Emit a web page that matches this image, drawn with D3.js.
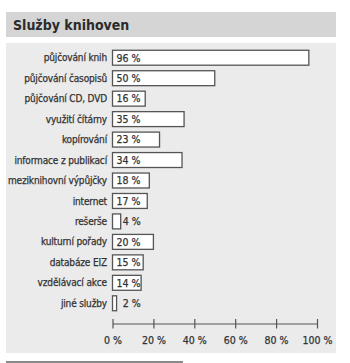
<!DOCTYPE html>
<html lang="cs">
<head>
<meta charset="utf-8">
<script src="https://cdn.jsdelivr.net/npm/d3@7"></script>
<style>
  html, body { margin: 0; padding: 0; background: #ffffff; }
  svg { display: block; }
</style>
</head>
<body>
<svg id="chart" width="350" height="363"></svg>
<script>
// Library services – share of libraries offering each service (%)
const categories = [
  "půjčování knih",
  "půjčování časopisů",
  "půjčování CD, DVD",
  "využití čítárny",
  "kopírování",
  "informace z publikací",
  "meziknihovní výpůjčky",
  "internet",
  "rešerše",
  "kulturní pořady",
  "databáze EIZ",
  "vzdělávací akce",
  "jiné služby"
];
const values = [96, 50, 16, 35, 23, 34, 18, 17, 4, 20, 15, 14, 2];
const tickValues = [0, 20, 40, 60, 80, 100];
const title = "Služby knihoven";

const font = "'DejaVu Sans Condensed', 'DejaVu Sans', sans-serif";
const ink = "#333";
const svg = d3.select("#chart");

// Medium-weight text: regular glyphs with a hairline outline
function medium(sel) {
  return sel.attr("font-family", font).attr("fill", ink)
    .attr("stroke", ink).attr("stroke-width", 0.25);
}

// Title band
svg.append("rect").attr("x", 6).attr("y", 12).attr("width", 330).attr("height", 25)
  .attr("fill", "#d5d5d5");
svg.append("text").attr("x", 13).attr("y", 29.5)
  .attr("font-family", font).attr("font-weight", "bold").attr("font-size", 14)
  .attr("fill", "#2b2b2b").text(title);

// Plot panel
svg.append("rect").attr("x", 6).attr("y", 43).attr("width", 330).attr("height", 310)
  .attr("fill", "#ebebeb");

// Underline below the panel
svg.append("rect").attr("x", 6).attr("y", 361).attr("width", 177).attr("height", 2)
  .attr("fill", "#8a8a8a");

const x = d3.scaleLinear().domain([0, 100]).range([112.5, 317]);
const y = d3.scaleBand().domain(categories).range([47.5, 313.5]).paddingInner(0.27).paddingOuter(0.135);

const rows = svg.append("g").selectAll("g").data(categories).join("g");

// Category labels
rows.append("text")
  .attr("x", 107)
  .attr("y", d => y(d) + y.bandwidth() / 2)
  .attr("dy", "0.36em")
  .attr("text-anchor", "end")
  .attr("font-size", 10).attr("letter-spacing", -0.15)
  .call(medium).text(d => d);

// Bars
rows.append("rect")
  .attr("x", x(0))
  .attr("y", d => y(d))
  .attr("width", (d, i) => x(values[i]) - x(0))
  .attr("height", y.bandwidth())
  .attr("fill", "#ffffff")
  .attr("stroke", "#555")
  .attr("stroke-width", 1.3);

// Value labels
rows.append("text")
  .attr("x", (d, i) => values[i] < 5 ? x(5) : x(0) + 4)
  .attr("y", d => y(d) + y.bandwidth() / 2)
  .attr("dy", "0.36em")
  .attr("font-size", 10.5)
  .call(medium).text((d, i) => values[i] + " %");

// Percentage axis
const axis = d3.axisBottom(x).tickValues(tickValues).tickSize(0).tickFormat(d => d + " %");
const gAxis = svg.append("g").attr("transform", "translate(0,323.5)").call(axis);
gAxis.select(".domain").attr("stroke", "#555").attr("stroke-width", 1.2);
gAxis.selectAll(".tick line").attr("y1", -4.5).attr("y2", 5).attr("stroke", "#555").attr("stroke-width", 1.2);
gAxis.selectAll(".tick text").attr("y", 20).attr("dy", "0")
  .attr("font-size", 10.5)
  .call(medium);
</script>
</body>
</html>
